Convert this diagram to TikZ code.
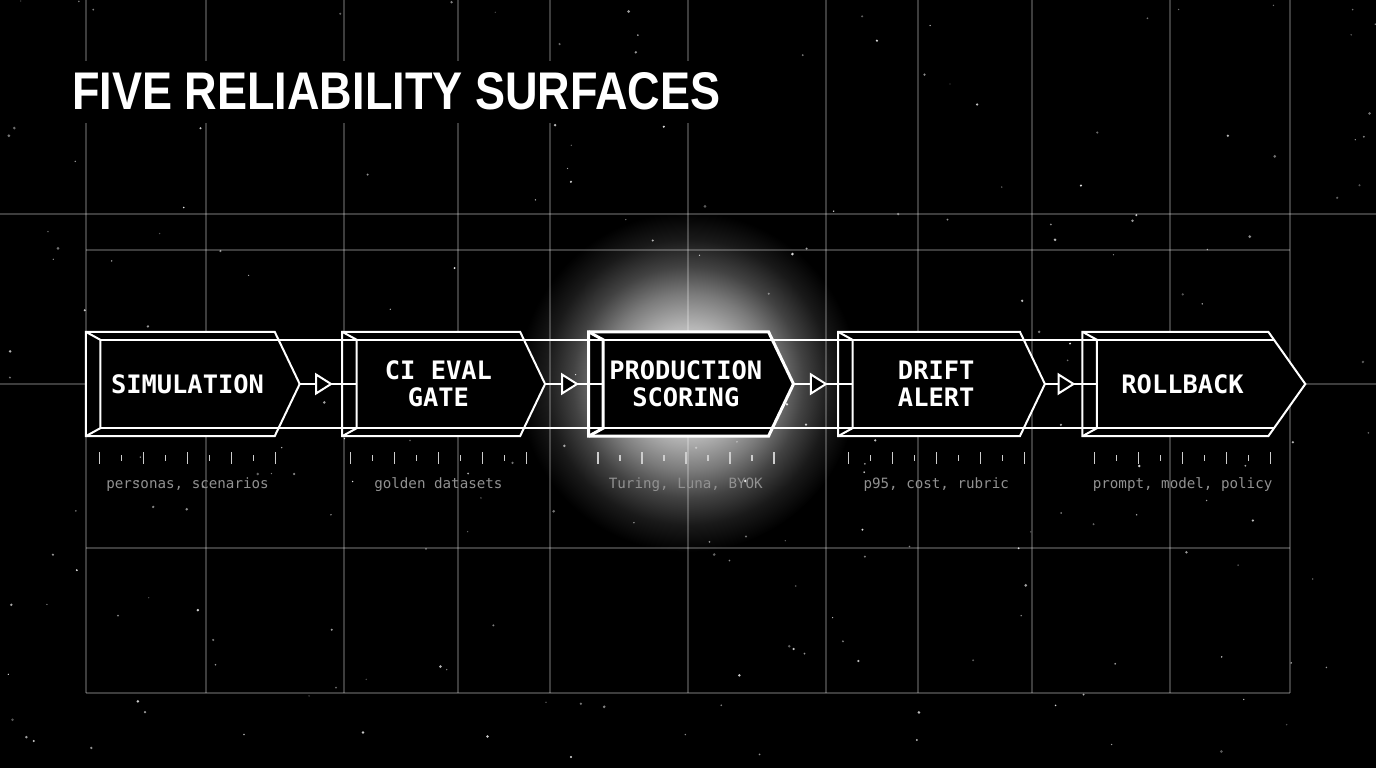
\documentclass[tikz,border=0pt]{standalone}
\usepackage{fontspec}
\setmainfont{Liberation Sans}
\setmonofont{DejaVu Sans Mono}
\usetikzlibrary{arrows.meta, positioning, calc, backgrounds, decorations.markings}
\definecolor{note-gray}{RGB}{145,145,145}
\definecolor{tick-gray}{RGB}{205,205,205}

\pgfdeclarelayer{grid}
\pgfdeclarelayer{shell}
\pgfsetlayers{grid,shell,main}

\pgfdeclareradialshading{glow}{\pgfpoint{0bp}{0bp}}{%
  color(0bp)=(white!88!black); color(8bp)=(white!72!black);
  color(13bp)=(white!48!black); color(17bp)=(white!26!black);
  color(21bp)=(white!10!black); color(25bp)=(black); color(50bp)=(black)}

% stage outline: #1 node, #2 tip length, #3 line width
\newcommand{\stageshell}[3]{%
  \begin{pgfonlayer}{shell}
    \draw[white, line width=#3, fill=black]
      ($(#1.north west)+(-14.5,8)$) -- ($(#1.north east)+(0,8)$)
      -- ($(#1.east)+(#2,0)$) -- ($(#1.south east)+(0,-8)$)
      -- ($(#1.south west)+(-14.5,-8)$) -- cycle;
    \draw[white, line width=#3]
      ($(#1.north west)+(-14.5,8)$) -- (#1.north west) -- (#1.south west)
      -- ($(#1.south west)+(-14.5,-8)$);
  \end{pgfonlayer}
  \coordinate (#1-tip) at ($(#1.east)+(#2,0)$);
}

% tick ruler and caption under a stage
\newcommand{\stagenote}[2]{%
  \foreach \k in {-4,...,4} {
    \pgfmathsetmacro{\ticklen}{mod(\k+4,2)==0 ? 6 : 3}
    \draw[tick] ($(#1.south)+({22*(\k)},{-30+\ticklen})$) -- ($(#1.south)+({22*(\k)},{-30-\ticklen})$);
  }
  \node[note] (#1-note) at ($(#1.south)+(0,-60)$) {#2};
}

\begin{document}
\begin{tikzpicture}[
    x=1pt, y=1pt,
    stage/.style={minimum height=88pt, inner sep=0pt, align=center, text=white,
      font=\ttfamily\bfseries\fontsize{25.4}{27}\selectfont},
    note/.style={anchor=base, inner sep=0pt, text=note-gray,
      font=\ttfamily\fontsize{14.2}{16}\selectfont},
    tick/.style={tick-gray, line width=1.4pt},
    band/.style={white, line width=2pt},
    gridline/.style={white, opacity=0.24, line width=1.2pt},
    link/.style={white, line width=2pt, postaction={decorate}, decoration={markings,
      mark=at position 0.55 with {\draw[white, line width=2pt, fill=black, line join=miter]
        (-15pt,-9.5pt) -- (0pt,0pt) -- (-15pt,9.5pt) -- cycle;}}},
    heading/.style={anchor=base west, fill=black, text=white, inner xsep=12pt, inner ysep=12pt,
      font=\bfseries\fontsize{53}{60}\selectfont}
]
\useasboundingbox (0,0) rectangle (1376,768);

\begin{pgfonlayer}{grid}
  \fill[black] (0,0) rectangle (1376,768);
  % glow behind the highlighted stage
  \shade[shading=glow] (688,386) circle (170);
  % stars
  \pgfmathsetseed{42}
  \foreach \k in {1,...,230} {
    \pgfmathsetmacro{\starx}{rnd*1376}
    \pgfmathsetmacro{\stary}{rnd*768}
    \pgfmathsetmacro{\starr}{0.6+rnd*0.9}
    \pgfmathsetmacro{\staro}{0.3+rnd*0.6}
    \fill[white, opacity=\staro] (\starx,\stary) circle (\starr);
  }
  % grid
  \foreach \gx in {86,206,344,458,550,688,826,918,1032,1170,1290}
    \draw[gridline] (\gx,768) -- (\gx,75);
  \draw[gridline] (0,554) -- (1376,554);
  \draw[gridline] (86,518) -- (1290,518);
  \draw[gridline] (0,384) -- (1376,384);
  \draw[gridline] (86,220) -- (1290,220);
  \draw[gridline] (86,75) -- (1290,75);
\end{pgfonlayer}

% Title
\node[heading] (title) at (60,658) {\scalebox{0.85}[1]{FIVE RELIABILITY SURFACES}};

% Stages
\node[stage, minimum width=174pt] (sim) at (187.5,384) {SIMULATION};
\node[stage, minimum width=163pt, right=82pt of sim] (ci) {CI EVAL\\GATE};
\node[stage, minimum width=165pt, right=83pt of ci] (prod) {PRODUCTION\\SCORING};
\node[stage, minimum width=167pt, right=84pt of prod] (drift) {DRIFT\\ALERT};
\node[stage, minimum width=171pt, right=77pt of drift] (roll) {ROLLBACK};

\stageshell{sim}{25}{2pt}
\stageshell{ci}{25}{2pt}
\stageshell{prod}{25}{3pt}
\stageshell{drift}{25}{2pt}
\stageshell{roll}{37}{2pt}

% back edges running through all stages
\begin{pgfonlayer}{shell}
  \draw[band] (sim.north west) -- ($(roll.north east)+(6,0)$);
  \draw[band] (sim.south west) -- ($(roll.south east)+(6,0)$);
\end{pgfonlayer}

% Arrows
\draw[link] (sim-tip) -- (ci.west);
\draw[link] (ci-tip) -- (prod.west);
\draw[link] (prod-tip) -- (drift.west);
\draw[link] (drift-tip) -- (roll.west);

% Rulers and captions
\stagenote{sim}{personas, scenarios}
\stagenote{ci}{golden datasets}
\stagenote{prod}{Turing, Luna, BYOK}
\stagenote{drift}{p95, cost, rubric}
\stagenote{roll}{prompt, model, policy}

\end{tikzpicture}
\end{document}
